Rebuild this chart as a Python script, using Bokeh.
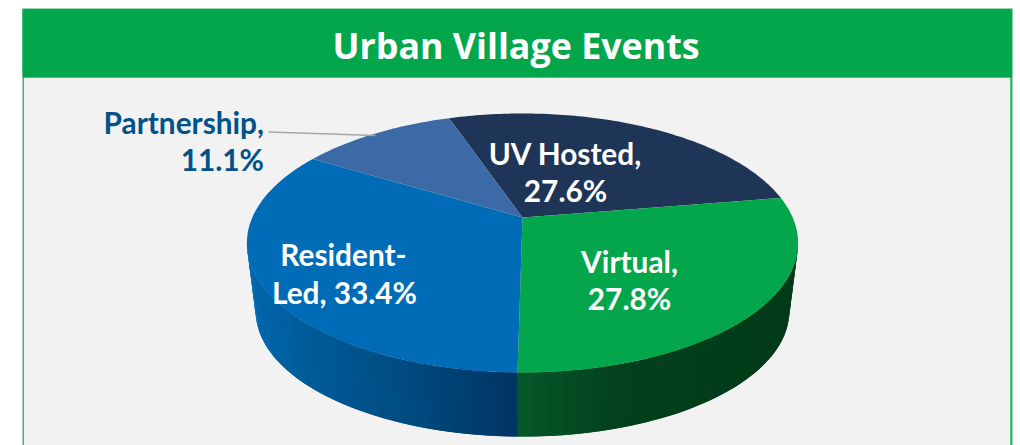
import math
from bokeh.plotting import figure
from bokeh.models import Range1d
from bokeh.core.properties import value
from bokeh.embed import file_html
from bokeh.resources import INLINE

title = "Urban Village Events"
categories = ["UV Hosted", "Virtual", "Resident-Led", "Partnership"]
values = [27.6, 27.8, 33.4, 11.1]
top_colors = ["#1F3557", "#04A64B", "#006BB6", "#3C6AA6"]

FONT = "Lato"
TITLE_FONT = "Open Sans"
START = -18.8
CX, CY, R, S, K = 522.0, 217.0, 270.2, 124.5, 0.197
BOT_SCALE, BOT_CY = 0.968, 286.0

def project(deg, scale=1.0, cy=CY):
    t = math.radians(deg)
    u, v = math.sin(t), -math.cos(t)
    d = 1 - K * v
    return CX + scale * R * u / d, cy + scale * S * v / d

def lerp_color(stops, x):
    if x <= stops[0][0]:
        return stops[0][1]
    for (x0, c0), (x1, c1) in zip(stops, stops[1:]):
        if x <= x1:
            f = (x - x0) / (x1 - x0)
            return tuple(round(a + (b - a) * f) for a, b in zip(c0, c1))
    return stops[-1][1]

BLUE_SIDE = [(250, (0, 104, 172)), (300, (0, 92, 155)), (400, (0, 76, 130)), (518, (0, 52, 98))]
GREEN_SIDE = [(518, (5, 90, 42)), (620, (3, 64, 28)), (800, (0, 58, 24))]

p = figure(width=1020, height=445, x_range=Range1d(0, 1020), y_range=Range1d(445, 0),
           output_backend="svg", toolbar_location=None, min_border=0,
           background_fill_color="white", border_fill_color="white", outline_line_color=None)
p.axis.visible = False
p.grid.visible = False

# card
p.quad(left=[22], right=[1012], top=[8], bottom=[445], fill_color="#2DB567", line_color=None)
p.quad(left=[23.4], right=[1009.7], top=[77], bottom=[445], fill_color="#F2F2F2", line_color=None)
p.quad(left=[22], right=[1011.6], top=[8.6], bottom=[77], fill_color="#04A64B", line_color=None)

# slice boundaries
total = sum(values)
bounds = [START]
for v in values:
    bounds.append(bounds[-1] + 360 * v / total)

# side wall, front half only, shaded in overlapping strips so no seams show
SIL_A, SIL_B = 101.4, 258.6
split = bounds[2]

def side(a_start, a_end, stops, steps):
    xs_all, ys_all, cols = [], [], []
    da = (a_end - a_start) / steps
    for i in range(steps):
        a = a_start + da * i
        b = a_start + da * min(i + 2, steps)
        pts = [project(a), project(b), project(b, BOT_SCALE, BOT_CY), project(a, BOT_SCALE, BOT_CY)]
        mx = (pts[0][0] + pts[3][0]) / 2
        cols.append("#%02X%02X%02X" % lerp_color(stops, mx))
        xs_all.append([q[0] for q in pts])
        ys_all.append([q[1] for q in pts])
    p.patches(xs_all, ys_all, fill_color=cols, line_color=None)

side(SIL_A, split, GREEN_SIDE, 60)
side(SIL_B, split, BLUE_SIDE, 80)

# top face
for i, col in enumerate(top_colors):
    a0, a1 = bounds[i], bounds[i + 1]
    n = max(2, int(a1 - a0))
    pts = [project(a0 + (a1 - a0) * j / n) for j in range(n + 1)]
    xs = [CX] + [q[0] for q in pts]
    ys = [CY] + [q[1] for q in pts]
    p.patch(xs, ys, fill_color=col, line_color=None)

# leader line
p.line([268, 375], [131.5, 135], line_color="#A6A6A6", line_width=1.5)

# texts
def t(x, y, s, color="white", size="29.8px", align="center", style="bold", font=FONT):
    p.text([x], [y], text=[s], text_color=color, text_font=value(font), text_font_size=size,
           text_align=align, text_baseline="middle", text_font_style=style)

t(515.5, 44, title, size="35.8px", font=TITLE_FONT)
t(565, 153, "UV Hosted,")
t(565, 190, f"{values[0]}%")
t(629, 261, "Virtual,")
t(629, 298, f"{values[1]}%")
t(343, 254, "Resident-")
t(344, 292, f"Led, {values[2]}%")
t(263.5, 122, "Partnership,", color="#005288", align="right")
t(263.5, 159, f"{values[3]}%", color="#005288", align="right")

open("out.html", "w").write(file_html(p, INLINE))
